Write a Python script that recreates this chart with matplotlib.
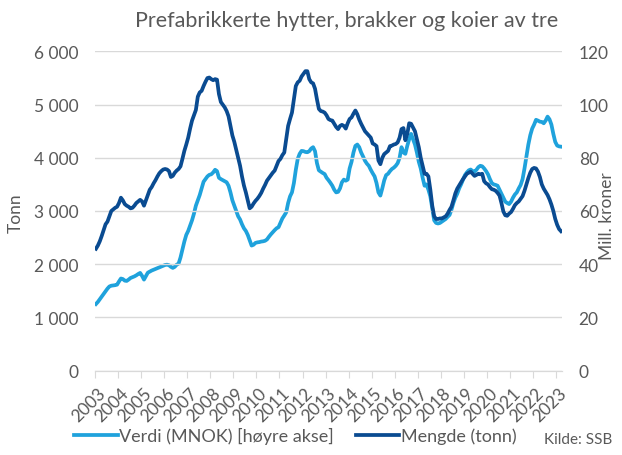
import numpy as np
import matplotlib
matplotlib.use("Agg")
import matplotlib.pyplot as plt
from matplotlib.ticker import FuncFormatter, FixedLocator

plt.rcParams['font.family'] = ['Lato', 'DejaVu Sans']

# monthly series, Jan 2003 - Mar 2023
mengde_tonn = [
    2290, 2350, 2430, 2530, 2640, 2750, 2800, 2900, 3000, 3030, 3060, 3080,  # 2003
    3150, 3250, 3200, 3130, 3100, 3080, 3050, 3060, 3100, 3150, 3180, 3210,  # 2004
    3180, 3100, 3200, 3300, 3400, 3450, 3520, 3580, 3650, 3710, 3750, 3780,  # 2005
    3790, 3780, 3750, 3640, 3660, 3720, 3760, 3790, 3840, 3980, 4130, 4250,  # 2006
    4380, 4550, 4700, 4800, 4900, 5150, 5230, 5260, 5350, 5430, 5500, 5510,  # 2007
    5480, 5460, 5480, 5470, 5200, 5050, 5000, 4950, 4880, 4780, 4600, 4420,  # 2008
    4300, 4150, 4000, 3850, 3650, 3480, 3350, 3200, 3050, 3080, 3140, 3190,  # 2009
    3230, 3280, 3340, 3420, 3490, 3570, 3620, 3670, 3720, 3760, 3850, 3940,  # 2010
    3980, 4050, 4100, 4350, 4600, 4730, 4850, 5100, 5350, 5420, 5450, 5530,  # 2011
    5580, 5630, 5630, 5480, 5420, 5400, 5300, 5100, 4920, 4880, 4870, 4850,  # 2012
    4800, 4730, 4710, 4700, 4640, 4580, 4540, 4600, 4620, 4600, 4550, 4650,  # 2013
    4730, 4760, 4830, 4890, 4820, 4720, 4640, 4570, 4500, 4460, 4420, 4380,  # 2014
    4270, 4250, 4220, 3950, 3880, 4000, 4070, 4100, 4130, 4220, 4230, 4250,  # 2015
    4260, 4290, 4380, 4540, 4560, 4330, 4450, 4650, 4640, 4570, 4500, 4350,  # 2016
    4200, 4000, 3850, 3700, 3700, 3650, 3400, 3100, 2900, 2850, 2850, 2860,  # 2017
    2860, 2880, 2900, 2950, 3020, 3080, 3200, 3330, 3420, 3480, 3540, 3600,  # 2018
    3650, 3700, 3720, 3740, 3700, 3660, 3680, 3700, 3690, 3700, 3560, 3520,  # 2019
    3500, 3450, 3410, 3400, 3380, 3340, 3290, 3150, 2990, 2920, 2910, 2950,  # 2020
    2980, 3040, 3110, 3150, 3180, 3230, 3280, 3380, 3500, 3620, 3720, 3790,  # 2021
    3810, 3800, 3740, 3640, 3500, 3420, 3360, 3300, 3220, 3120, 3000, 2850,  # 2022
    2740, 2660, 2620,                                                        # 2023
]

verdi_mnok = [
    25.0, 25.8, 26.8, 27.8, 28.8, 29.8, 30.8, 31.6, 31.9, 32.0, 32.1, 32.3,  # 2003
    33.5, 34.6, 34.4, 33.8, 33.7, 34.2, 34.8, 35.1, 35.4, 35.8, 36.3, 36.7,  # 2004
    35.6, 34.2, 35.5, 36.8, 37.2, 37.6, 37.9, 38.2, 38.5, 38.8, 39.1, 39.4,  # 2005
    39.7, 39.8, 39.6, 39.0, 38.6, 39.0, 39.8, 40.2, 42.5, 45.5, 48.5, 51.0,  # 2006
    52.5, 54.5, 56.5, 59.0, 62.0, 64.0, 66.0, 68.5, 71.0, 72.0, 73.0, 73.6,  # 2007
    73.8, 74.5, 75.5, 75.0, 72.5, 72.0, 71.6, 71.2, 70.8, 69.5, 67.0, 64.0,  # 2008
    62.0, 60.0, 58.0, 56.8, 55.0, 53.5, 52.5, 51.0, 49.0, 47.0, 47.3, 48.0,  # 2009
    48.2, 48.3, 48.5, 48.6, 48.8, 49.3, 50.3, 51.2, 52.0, 52.8, 53.5, 53.9,  # 2010
    55.5, 57.2, 58.3, 59.5, 63.0, 65.5, 67.0, 70.5, 75.5, 79.6, 81.5, 82.6,  # 2011
    82.5, 82.2, 82.1, 82.5, 83.5, 84.0, 82.5, 78.0, 75.3, 74.8, 74.3, 73.9,  # 2012
    72.5, 71.6, 70.6, 69.5, 68.0, 67.0, 67.2, 68.5, 70.8, 71.8, 71.4, 71.8,  # 2013
    76.0, 78.5, 82.0, 84.5, 85.0, 84.0, 82.0, 80.5, 78.9, 77.8, 77.0, 75.5,  # 2014
    74.2, 73.0, 70.5, 67.0, 65.8, 68.5, 71.5, 73.5, 74.0, 75.0, 75.8, 76.3,  # 2015
    77.0, 78.0, 80.0, 84.0, 82.0, 81.5, 84.5, 87.0, 89.0, 87.0, 85.0, 82.0,  # 2016
    78.5, 76.0, 72.5, 69.5, 70.0, 68.0, 65.5, 61.0, 56.5, 55.5, 55.3, 55.5,  # 2017
    56.0, 56.5, 57.0, 57.8, 58.5, 60.5, 63.0, 65.0, 66.5, 68.5, 70.0, 71.8,  # 2018
    73.5, 74.5, 75.3, 75.6, 75.0, 74.8, 75.5, 76.5, 77.0, 76.8, 76.0, 75.0,  # 2019
    73.8, 72.0, 70.5, 70.0, 69.8, 69.5, 68.0, 66.5, 65.0, 63.5, 63.0, 62.6,  # 2020
    63.5, 65.0, 66.2, 67.0, 68.5, 69.8, 72.0, 76.0, 80.5, 85.0, 88.5, 91.0,  # 2021
    92.5, 94.3, 94.0, 93.6, 93.5, 93.0, 94.0, 95.5, 94.5, 92.5, 89.0, 86.0,  # 2022
    84.6, 84.3, 84.2,                                                        # 2023
]

years = list(range(2003, 2024))

lys_bla = '#1fa2dc'
mork_bla = '#0a4b91'
tekst = '#595959'

fig = plt.figure(figsize=(6.22, 4.56), dpi=100)
ax = fig.add_axes([0.1527, 0.1853, 0.7508, 0.6996])
ax2 = ax.twinx()

n = len(mengde_tonn)
x = np.arange(n)

# value on the secondary axis, drawn first so the tonnage line sits on top
l1, = ax2.plot(x, verdi_mnok, color=lys_bla, lw=2.7, solid_joinstyle='round')
l2, = ax.plot(x, mengde_tonn, color=mork_bla, lw=2.7, solid_joinstyle='round')
ax.set_zorder(ax2.get_zorder() + 1)
ax.patch.set_visible(False)

ax.set_xlim(-0.5, n - 0.5)
ax.set_ylim(0, 6000)
ax2.set_ylim(0, 120)
ax.set_yticks(range(0, 6001, 1000))
ax2.set_yticks(range(0, 121, 20))
ax.yaxis.set_major_formatter(FuncFormatter(lambda v, p: f"{int(v):,}".replace(",", " ")))
ax.grid(axis='y', color='#d9d9d9', lw=1.0)
ax.set_axisbelow(True)

for a in (ax, ax2):
    for s in ('top', 'left', 'right'):
        a.spines[s].set_visible(False)
    a.spines['bottom'].set_color('#d9d9d9')
    a.tick_params(axis='y', length=0, labelsize=12.5, colors=tekst)
ax.tick_params(axis='y', pad=12)
ax2.tick_params(axis='y', pad=12)

# year boundaries as ticks, labels shifted into each year
ax.xaxis.set_major_locator(FixedLocator([(y - 2003) * 12 - 0.5 for y in years]))
ax.tick_params(axis='x', which='major', length=5, color='#d9d9d9', labelbottom=False)
ax.xaxis.set_minor_locator(FixedLocator([(y - 2003) * 12 + 0.5 for y in years]))
ax.set_xticklabels(years, minor=True)
ax.tick_params(axis='x', which='minor', length=0, labelsize=12.5, colors=tekst, pad=10)
for lab in ax.get_xticklabels(minor=True):
    lab.set_rotation(45)
    lab.set_ha('right')
    lab.set_va('top')
    lab.set_rotation_mode('anchor')
ax2.tick_params(axis='x', length=0)

fig.text(0.026, 0.533, 'Tonn', rotation=90, ha='center', va='center',
         fontsize=12.5, color=tekst)
fig.text(0.976, 0.527, 'Mill. kroner', rotation=90, ha='center', va='center',
         fontsize=12.5, color=tekst)

fig.text(0.557, 0.955, 'Prefabrikkerte hytter, brakker og koier av tre',
         ha='center', va='center', fontsize=15.5, color=tekst)

fig.legend([l1, l2], ['Verdi (MNOK) [høyre akse]', 'Mengde (tonn)'],
           loc='center', bbox_to_anchor=(0.475, 0.042), ncol=2, frameon=False,
           fontsize=13, labelcolor=tekst, handlelength=2.4, handletextpad=0.1,
           columnspacing=1.2)
fig.text(0.985, 0.02, 'Kilde: SSB', ha='right', va='bottom', fontsize=11, color=tekst)

plt.savefig('out.png', dpi=100)
plt.close()
